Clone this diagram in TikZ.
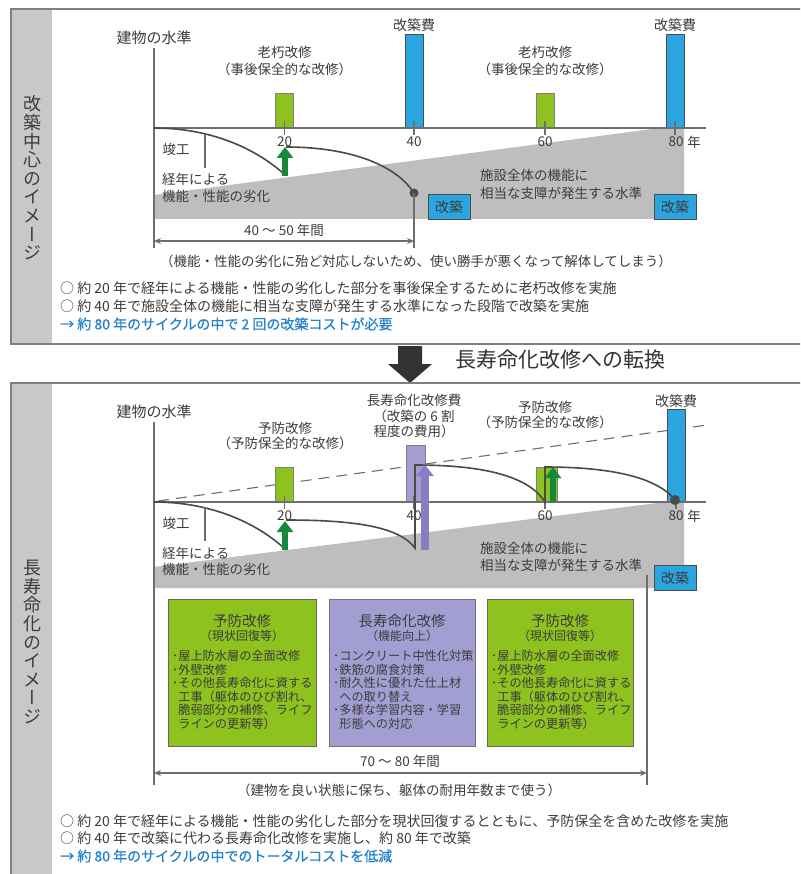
\documentclass[tikz,border=0pt]{standalone}
\usepackage{fontspec}
\setmainfont{Noto Sans CJK JP}
\newfontfamily\vfont[RawFeature=+vert]{Noto Sans CJK JP}
\newfontfamily\semib[FakeBold=0.7]{Noto Sans CJK JP}
\usetikzlibrary{arrows.meta}
\definecolor{txt}{HTML}{3C3C3C}
\definecolor{bluetxt}{HTML}{2383CC}
\definecolor{stripc}{HTML}{C8C8C8}
\definecolor{framec}{HTML}{7F7F7F}
\definecolor{bandc}{HTML}{BEBEBE}
\definecolor{greenc}{HTML}{8DC21F}
\definecolor{bluec}{HTML}{2AA5E0}
\definecolor{purplec}{HTML}{A39ED2}
\definecolor{darkgreen}{HTML}{16883A}
\definecolor{purplearrow}{HTML}{877DC4}
\definecolor{curvec}{HTML}{4A4A4A}
\definecolor{axisc}{HTML}{6E6E6E}
\definecolor{bigarrow}{HTML}{333333}
\tikzset{
 lbl/.style={inner sep=0pt,text=txt,font=\fontsize{13.5}{15}\selectfont},
 bul/.style={inner sep=0pt,text=txt,anchor=west,font=\fontsize{14}{16}\selectfont},
 frame/.style={draw=framec,line width=1.3pt},
 axisl/.style={draw=axisc,line width=1.1pt},
 curvel/.style={draw=curvec,line width=1.6pt},
 gbar/.style={fill=greenc,draw=black!50,line width=0.8pt},
 bbar/.style={fill=bluec,draw=black!70,line width=0.9pt},
 pbar/.style={fill=purplec,draw=black!50,line width=0.8pt},
 kbox/.style={fill=bluec,draw=black!70,line width=0.9pt,minimum width=42pt,minimum height=25pt,inner sep=0pt,text=txt,font=\fontsize{14}{14}\selectfont},
 dimline/.style={draw=axisc,line width=1.1pt,{Stealth[length=7pt,width=6pt]}-{Stealth[length=7pt,width=6pt]}},
 garrow/.style={draw=darkgreen,line width=6.5pt,-{Triangle[length=11pt,width=16pt]}},
 parrow/.style={draw=purplearrow,line width=8pt,-{Triangle[length=11pt,width=17pt]}},
 vtxt/.style={inner sep=0pt,text=txt,align=center,font=\vfont\fontsize{18}{18.6}\selectfont},
 boxg/.style={fill=greenc,draw=black!60,line width=0.9pt},
 boxp/.style={fill=purplec,draw=black!55,line width=0.9pt},
 btitle/.style={inner sep=0pt,text=txt,font=\fontsize{14.5}{15}\selectfont},
 bsub/.style={inner sep=0pt,text=txt,font=\fontsize{12}{13}\selectfont},
 blist/.style={inner sep=0pt,text=txt,anchor=north west,align=left,font=\fontsize{12.2}{13.6}\selectfont},
 bluebul/.style={bul,text=bluetxt,font=\semib\fontsize{14}{16}\selectfont},
}
\begin{document}
\begin{tikzpicture}[x=1pt,y=-1pt]
\useasboundingbox (0,0) rectangle (800,874);
\clip (0,0) rectangle (800,874);
\fill[white] (0,0) rectangle (800,874);

% ================= TOP PANEL =================
\fill[stripc] (12,10) rectangle (52,343);
\draw[frame] (11,9) rectangle (830,344);
\node[vtxt] (vt1) at (32,178) {改\\築\\中\\心\\の\\イ\\メ\\ー\\ジ};

\fill[bandc] (154,195) -- (660,128) -- (684,128) -- (684,219) -- (154,219) -- cycle;

\filldraw[gbar] (275.5,93) rectangle (293.5,128);
\filldraw[bbar] (405,34) rectangle (423,128);
\filldraw[gbar] (536,93) rectangle (554,128);
\filldraw[bbar] (666,34) rectangle (684,128);

\draw[axisl] (154,48) -- (154,248);
\draw[axisl] (154,128) -- (706,128);
\foreach \x in {284.5,414,545,675} \draw[axisl] (\x,121) -- (\x,135);

\node[lbl,font=\fontsize{15}{16}\selectfont] (ty) at (154,38) {建物の水準};
\node[lbl] (t20) at (284.5,142) {20};
\node[lbl] (t40) at (414,142) {40};
\node[lbl] (t60) at (545,142) {60};
\node[lbl] (t80) at (676,142) {80};
\node[lbl] (tnen) at (694,142) {年};
\node[lbl] (ta1) at (284.5,52) {老朽改修};
\node[lbl] (ta2) at (284.5,69) {（事後保全的な改修）};
\node[lbl] (tb1) at (545,52) {老朽改修};
\node[lbl] (tb2) at (545,69) {（事後保全的な改修）};
\node[lbl,font=\fontsize{14}{15}\selectfont] (tc1) at (414,25) {改築費};
\node[lbl,font=\fontsize{14}{15}\selectfont] (tc2) at (675,25) {改築費};

\draw[curvel] (154,128) .. controls (210,128) and (255,148) .. (284,174);
\draw[garrow] (285,176) -- (285,147);
\draw[curvel] (286,147) .. controls (350,147) and (396,165) .. (414,193);
\fill[curvec] (414,193) circle (4.5pt);
\draw[axisl] (414,193) -- (414,248);
\draw[axisl] (205,134) -- (205,168);

\node[lbl] (tk) at (176,149) {竣工};
\node[lbl,anchor=west] (tkn1) at (162,179) {経年による};
\node[lbl,anchor=west] (tkn2) at (162,196) {機能・性能の劣化};
\node[lbl,anchor=west] (ts1) at (480,175) {施設全体の機能に};
\node[lbl,anchor=west] (ts2) at (480,193) {相当な支障が発生する水準};
\node[kbox] (kb1) at (449,207) {改築};
\node[kbox] (kb2) at (675,207) {改築};

\draw[dimline] (154,241) -- (414,241);
\node[lbl] (td) at (284,230) {40 ～ 50 年間};
\node[lbl] (tn) at (416,261) {（機能・性能の劣化に殆ど対応しないため、使い勝手が悪くなって解体してしまう）};

\node[bul] (b1) at (60,288) {○ 約 20 年で経年による機能・性能の劣化した部分を事後保全するために老朽改修を実施};
\node[bul] (b2) at (60,306) {○ 約 40 年で施設全体の機能に相当な支障が発生する水準になった段階で改築を実施};
\node[bluebul] (b3) at (60,324) {→ 約 80 年のサイクルの中で 2 回の改築コストが必要};

% ================= TRANSITION =================
\fill[bigarrow] (398,346) -- (422,346) -- (422,364) -- (432,364) -- (410,383) -- (388,364) -- (398,364) -- cycle;
\node[inner sep=0pt,text=bigarrow,font=\fontsize{21}{22}\selectfont] (title) at (560,360) {長寿命化改修への転換};

% ================= BOTTOM PANEL =================
\fill[stripc] (12,384) rectangle (52,874);
\draw[frame] (11,383) rectangle (830,900);
\node[vtxt] (vt2) at (32,642) {長\\寿\\命\\化\\の\\イ\\メ\\ー\\ジ};

\fill[bandc] (154,567) -- (665,502) -- (684,502) -- (684,588) -- (154,588) -- cycle;

\draw[axisc,line width=1.1pt,dash pattern=on 11pt off 7pt] (158,501) -- (707,425);

\filldraw[gbar] (275.5,467) rectangle (293.5,502);
\filldraw[pbar] (406,445) rectangle (425,502);
\filldraw[gbar] (536,467) rectangle (557,502);
\filldraw[bbar] (667,409) rectangle (685,502);

\draw[axisl] (154,422) -- (154,785);
\draw[axisl] (154,502) -- (706,502);
\foreach \x in {284.5,414,545,676} \draw[axisl] (\x,496) -- (\x,509);

\node[lbl,font=\fontsize{15}{16}\selectfont] (by) at (154,412) {建物の水準};
\node[lbl] (b20) at (284.5,516) {20};
\node[lbl] (b40) at (414,516) {40};
\node[lbl] (b60) at (545,516) {60};
\node[lbl] (b80) at (676,516) {80};
\node[lbl] (bnen) at (694,516) {年};
\node[lbl] (ba1) at (285,428) {予防改修};
\node[lbl] (ba2) at (285,443) {（予防保全的な改修）};
\node[lbl,align=center,font=\fontsize{13.5}{15.5}\selectfont] (bl) at (414,416) {長寿命化改修費\\（改築の 6 割\\程度の費用）};
\node[lbl] (bb1) at (545,407) {予防改修};
\node[lbl] (bb2) at (545,422) {（予防保全的な改修）};
\node[lbl,font=\fontsize{14}{15}\selectfont] (bc) at (676,401) {改築費};

\draw[curvel] (154,502) .. controls (210,502) and (255,522) .. (284,548);
\draw[garrow] (285,550) -- (285,521);
\draw[curvel] (286,520) .. controls (360,520) and (400,528) .. (415,548) -- (415,465)
  .. controls (480,465) and (528,475) .. (545,502) -- (545,467)
  .. controls (610,467) and (657,477) .. (675,500);
\draw[parrow] (425,550) -- (425,465);
\draw[garrow] (553,502) -- (553,467);
\fill[curvec] (675,500) circle (5pt);
\draw[axisl] (205,507) -- (205,541);

\node[lbl] (bk) at (176,523) {竣工};
\node[lbl,anchor=west] (bkn1) at (162,553) {経年による};
\node[lbl,anchor=west] (bkn2) at (162,569) {機能・性能の劣化};
\node[lbl,anchor=west] (bs1) at (480,548) {施設全体の機能に};
\node[lbl,anchor=west] (bs2) at (480,565) {相当な支障が発生する水準};
\node[kbox] (kb3) at (675,578) {改築};

% boxes
\filldraw[boxg] (168,599) rectangle (316,746);
\filldraw[boxp] (329,599) rectangle (475,746);
\filldraw[boxg] (487,599) rectangle (633,746);

\node[btitle] (g1t) at (242,621) {予防改修};
\node[bsub] (g1s) at (242,636) {（現状回復等）};
\node[blist] (g1l) at (172,650) {･屋上防水層の全面改修\\･外壁改修\\･その他長寿命化に資する\\\hphantom{･}工事（躯体のひび割れ、\\\hphantom{･}脆弱部分の補修、ライフ\\\hphantom{･}ラインの更新等）};

\node[btitle] (p1t) at (402,621) {長寿命化改修};
\node[bsub] (p1s) at (402,636) {（機能向上）};
\node[blist] (p1l) at (333,650) {･コンクリート中性化対策\\･鉄筋の腐食対策\\･耐久性に優れた仕上材\\\hphantom{･}への取り替え\\･多様な学習内容・学習\\\hphantom{･}形態への対応};

\node[btitle] (g2t) at (560,621) {予防改修};
\node[bsub] (g2s) at (560,636) {（現状回復等）};
\node[blist] (g2l) at (491,650) {･屋上防水層の全面改修\\･外壁改修\\･その他長寿命化に資する\\\hphantom{･}工事（躯体のひび割れ、\\\hphantom{･}脆弱部分の補修、ライフ\\\hphantom{･}ラインの更新等）};

\draw[axisl] (647,575) -- (647,785);
\draw[dimline] (154,773) -- (647,773);
\node[lbl] (bd) at (400,761) {70 ～ 80 年間};
\node[lbl] (bn) at (399,790) {（建物を良い状態に保ち、躯体の耐用年数まで使う）};

\node[bul] (c1) at (60,821) {○ 約 20 年で経年による機能・性能の劣化した部分を現状回復するとともに、予防保全を含めた改修を実施};
\node[bul] (c2) at (60,838) {○ 約 40 年で改築に代わる長寿命化改修を実施し、約 80 年で改築};
\node[bluebul] (c3) at (60,856) {→ 約 80 年のサイクルの中でのトータルコストを低減};
\end{tikzpicture}
\end{document}
